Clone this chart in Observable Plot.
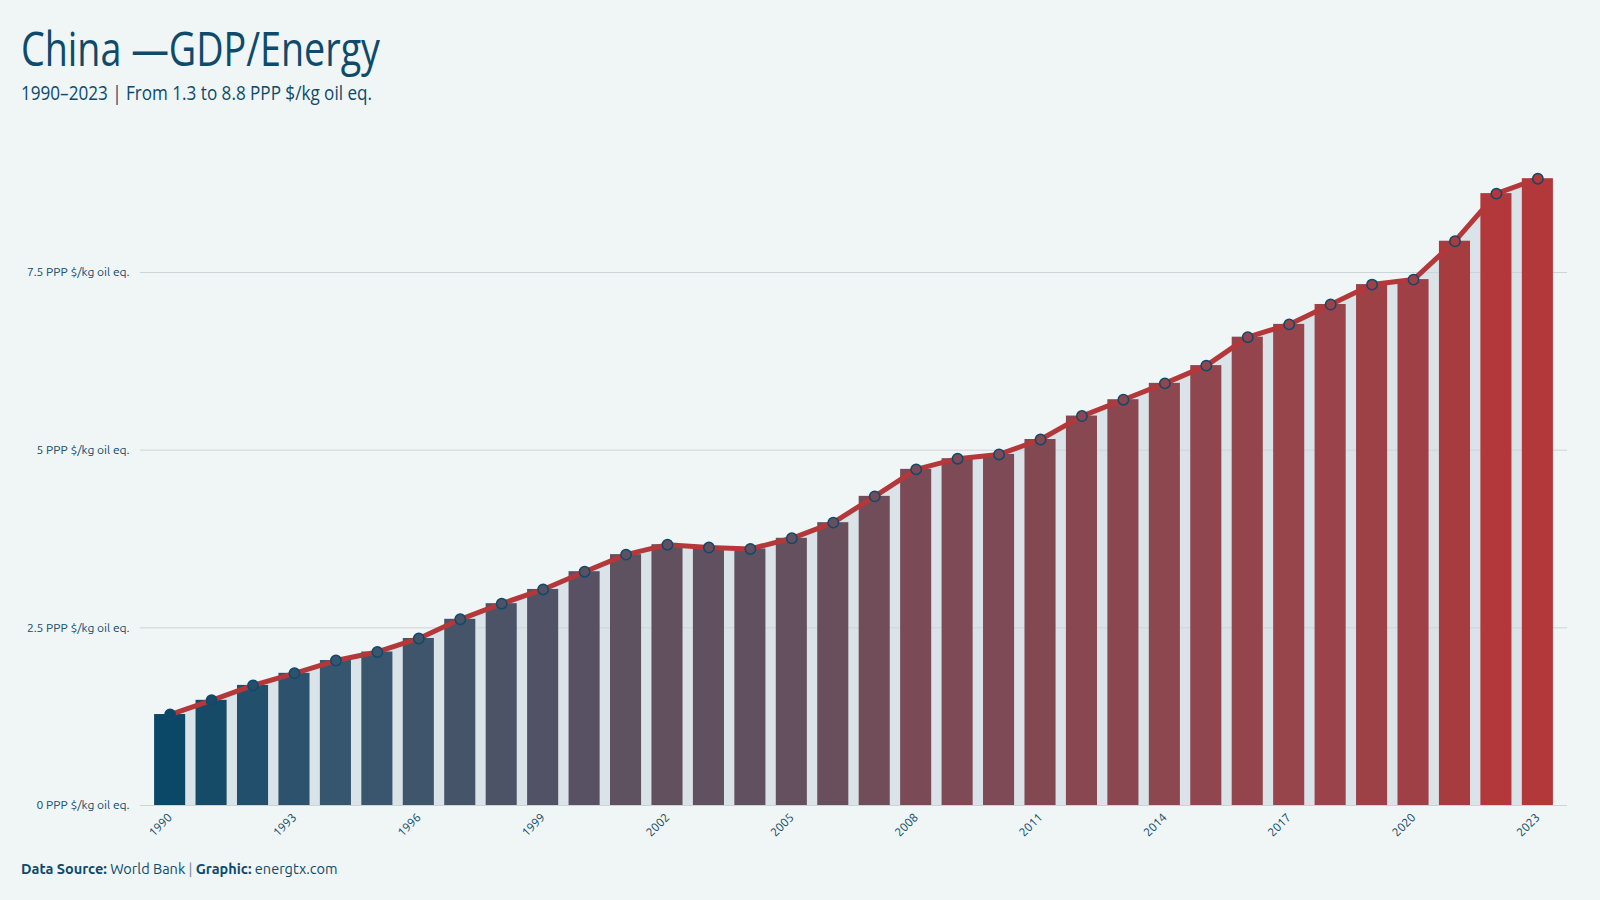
<!DOCTYPE html>
<html>
<head>
<meta charset="utf-8">
<script src="https://cdn.jsdelivr.net/npm/d3@7"></script>
<script src="https://cdn.jsdelivr.net/npm/@observablehq/plot@0.6"></script>
<style>
  html, body { margin: 0; padding: 0; background: #f0f5f5; }
  body { width: 1600px; height: 900px; overflow: hidden; font-family: "Ubuntu", "Open Sans", "Noto Sans", sans-serif; color: #0d4a6b; }
  #header { height: 120px; position: relative; }
  .fit { position: absolute; left: 21px; white-space: nowrap; transform-origin: 0 0; display: inline-block; }
  #title { top: 20px; font-family: "Ubuntu Condensed", "Open Sans", "Noto Sans", sans-serif; font-weight: 400; font-size: 48px; line-height: 56px; color: #0d4a6b; }
  #subtitle { top: 80px; font-family: "Ubuntu Condensed", "Open Sans", "Noto Sans", sans-serif; font-size: 20px; line-height: 26px; color: #0d4a6b; }
  #chart svg { display: block; }
  #footer { padding-left: 21px; font-size: 14.5px; line-height: 20px; margin-top: 19px; color: #0d4a6b; white-space: nowrap; }
  #footer b { font-weight: 700; }
  #footer .sep { color: #6f8898; }
</style>
</head>
<body>
<div id="header">
  <div id="title" class="fit" data-w="359">China —GDP/Energy</div>
  <div id="subtitle" class="fit" data-w="351">1990–2023 | From 1.3 to 8.8 PPP $/kg oil eq.</div>
</div>
<div id="chart"></div>
<div id="footer"><b>Data Source:</b> World Bank <span class="sep">|</span> <b>Graphic:</b> energtx.com</div>
<script>
const years = [1990,1991,1992,1993,1994,1995,1996,1997,1998,1999,2000,2001,2002,2003,2004,2005,2006,2007,2008,2009,2010,2011,2012,2013,2014,2015,2016,2017,2018,2019,2020,2021,2022,2023];
const values = [1.28,1.48,1.69,1.86,2.04,2.16,2.35,2.62,2.84,3.04,3.29,3.53,3.67,3.63,3.61,3.76,3.98,4.35,4.73,4.88,4.94,5.15,5.48,5.71,5.94,6.19,6.59,6.77,7.05,7.33,7.40,7.94,8.61,8.82];
const xTickYears = [1990,1993,1996,1999,2002,2005,2008,2011,2014,2017,2020,2023];
const yTicks = [0, 2.5, 5, 7.5];
const yUnit = "PPP $/kg oil eq.";
const colorStops = [1.28, 2.04, 3.67, 5.15, 7.05, 7.94, 8.61, 8.82];
const colorRange = ["#0b4766", "#36566f", "#62505f", "#834953", "#9a434a", "#a73c40", "#b2383b", "#b3383a"];

const data = years.map((year, i) => ({year, value: values[i]}));

const chart = Plot.plot({
  width: 1600,
  height: 720,
  marginLeft: 140,
  marginRight: 33,
  marginTop: 45.4,
  marginBottom: 35,
  style: {background: "transparent", fontFamily: "Ubuntu, 'Open Sans', 'Noto Sans', sans-serif", fontSize: "12px", color: "#0d4a6b", overflow: "visible"},
  x: {type: "band", domain: years, round: false, paddingInner: 0.25, paddingOuter: 0.34, ticks: xTickYears, tickFormat: d => String(d), tickRotate: -45, tickSize: 0, tickPadding: 10, label: null},
  y: {domain: [0, 9], ticks: yTicks, tickFormat: d => `${d} ${yUnit}`, tickSize: 0, tickPadding: 11, label: null},
  color: {type: "linear", domain: colorStops, range: colorRange},
  marks: [
    Plot.areaY(data, {x: "year", y: "value", fill: "#dae3e8"}),
    Plot.ruleY(yTicks, {stroke: "#cbd5d9", strokeWidth: 1}),
    Plot.barY(data, {x: "year", y: "value", fill: "value"}),
    Plot.lineY(data, {x: "year", y: "value", stroke: "#b4373a", strokeWidth: 5}),
    Plot.dot(data, {x: "year", y: "value", r: 5.2, fill: "value", stroke: "#0d4a6b", strokeWidth: 1.5})
  ]
});
document.getElementById("chart").appendChild(chart);

for (const el of document.querySelectorAll(".fit")) {
  const w = el.getBoundingClientRect().width;
  const target = +el.dataset.w;
  if (w > 0) el.style.transform = `scaleX(${target / w})`;
}
</script>
</body>
</html>
